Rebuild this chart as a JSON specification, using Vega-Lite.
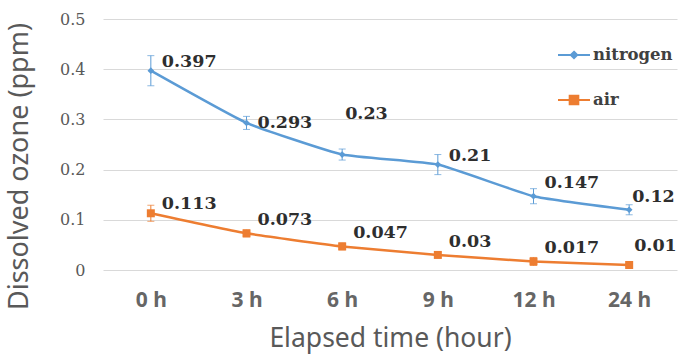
{
  "$schema": "https://vega.github.io/schema/vega-lite/v6.json",
  "autosize": {"type": "none"},
  "padding": {"left": 103, "top": 19, "right": 1, "bottom": 84},
  "width": 574,
  "height": 251,
  "background": "white",
  "config": {"view": {"stroke": null}},
  "data": {"values": [
    {"series": "nitrogen", "time": "0 h", "value": 0.397, "lo": 0.367, "hi": 0.427},
    {"series": "nitrogen", "time": "3 h", "value": 0.293, "lo": 0.28, "hi": 0.306},
    {"series": "nitrogen", "time": "6 h", "value": 0.23, "lo": 0.219, "hi": 0.241},
    {"series": "nitrogen", "time": "9 h", "value": 0.21, "lo": 0.19, "hi": 0.23},
    {"series": "nitrogen", "time": "12 h", "value": 0.147, "lo": 0.132, "hi": 0.162},
    {"series": "nitrogen", "time": "24 h", "value": 0.12, "lo": 0.11, "hi": 0.13},
    {"series": "air", "time": "0 h", "value": 0.113, "lo": 0.097, "hi": 0.129},
    {"series": "air", "time": "3 h", "value": 0.073, "lo": 0.066, "hi": 0.08},
    {"series": "air", "time": "6 h", "value": 0.047, "lo": 0.04, "hi": 0.054},
    {"series": "air", "time": "9 h", "value": 0.03, "lo": 0.025, "hi": 0.035},
    {"series": "air", "time": "12 h", "value": 0.017, "lo": 0.009, "hi": 0.025},
    {"series": "air", "time": "24 h", "value": 0.01, "lo": 0.007, "hi": 0.013}
  ]},
  "encoding": {
    "x": {
      "field": "time", "type": "nominal",
      "sort": ["0 h", "3 h", "6 h", "9 h", "12 h", "24 h"],
      "scale": {"type": "point", "padding": 0.5},
      "axis": {
        "title": "Elapsed time (hour)",
        "labelAngle": 0, "ticks": false, "domain": false, "grid": false,
        "labelFont": "Noto Sans", "labelFontSize": 21, "labelFontWeight": "bold", "labelColor": "#666666",
        "labelPadding": 19,
        "titleFont": "Noto Sans", "titleFontSize": 26.5, "titleFontWeight": "normal",
        "titleColor": "#595959", "titleBaseline": "alphabetic", "titleY": 76
      }
    }
  },
  "layer": [
    {
      "mark": {"type": "line", "interpolate": "cardinal", "tension": 0.6, "strokeWidth": 2.5},
      "encoding": {
        "y": {
          "field": "value", "type": "quantitative",
          "scale": {"domain": [0, 0.5]},
          "axis": {
            "title": "Dissolved ozone (ppm)",
            "values": [0, 0.1, 0.2, 0.3, 0.4, 0.5], "format": ".1~f",
            "ticks": false, "domain": false,
            "gridColor": "#d9d9d9", "gridWidth": 1,
            "labelFont": "DejaVu Serif", "labelFontWeight": "normal",
            "labelFontSize": 16, "labelColor": "#595959", "labelPadding": 18,
            "titleFont": "Noto Sans", "titleFontSize": 27, "titleFontWeight": "normal",
            "titleColor": "#595959", "titleX": -84, "titleY": 147,
            "titleBaseline": "middle", "titleAlign": "center", "titleAngle": -90
          }
        },
        "color": {
          "field": "series", "type": "nominal",
          "scale": {"domain": ["nitrogen", "air"], "range": ["#5B9BD5", "#ED7D31"]},
          "legend": {
            "title": null, "orient": "none", "legendX": 454, "legendY": 19,
            "symbolType": "M-1,0H1M-0.3,-0.3H0.3V0.3H-0.3Z",
            "symbolSize": 1024, "symbolStrokeWidth": 2, "rowPadding": 19, "labelOffset": 2,
            "labelFont": "DejaVu Serif", "labelFontWeight": "bold",
            "labelFontSize": 16.5, "labelColor": "#404040",
            "encode": {"symbols": {"update": {
              "shape": {"signal": "datum.value === 'nitrogen' ? 'M-1,0H1M0,-0.2L0.2,0L0,0.2L-0.2,0Z' : 'M-1,0H1M-0.27,-0.27H0.27V0.27H-0.27Z'"},
              "fill": {"scale": "color", "field": "value"},
              "stroke": {"scale": "color", "field": "value"},
              "strokeWidth": {"value": 2},
              "strokeOpacity": {"value": 1},
              "fillOpacity": {"value": 1},
              "opacity": {"value": 1}
            }}}
          }
        }
      }
    },
    {
      "mark": {"type": "rule", "strokeWidth": 1},
      "encoding": {
        "y": {"field": "lo", "type": "quantitative"},
        "y2": {"field": "hi"},
        "color": {"field": "series", "type": "nominal"}
      }
    },
    {
      "mark": {"type": "tick", "size": 7, "thickness": 1},
      "encoding": {
        "y": {"field": "lo", "type": "quantitative"},
        "color": {"field": "series", "type": "nominal"}
      }
    },
    {
      "mark": {"type": "tick", "size": 7, "thickness": 1},
      "encoding": {
        "y": {"field": "hi", "type": "quantitative"},
        "color": {"field": "series", "type": "nominal"}
      }
    },
    {
      "transform": [{"filter": "datum.series === 'nitrogen'"}],
      "mark": {"type": "point", "shape": "diamond", "size": 45, "filled": true, "opacity": 1},
      "encoding": {
        "y": {"field": "value", "type": "quantitative"},
        "color": {"field": "series", "type": "nominal"}
      }
    },
    {
      "transform": [{"filter": "datum.series === 'air'"}],
      "mark": {"type": "point", "shape": "square", "size": 64, "filled": true, "opacity": 1},
      "encoding": {
        "y": {"field": "value", "type": "quantitative"},
        "color": {"field": "series", "type": "nominal"}
      }
    },
    {
      "transform": [{"filter": "indexof(['0.147','0.073','0.047','0.03','0.017'], '' + datum.value) >= 0"}],
      "mark": {"type": "text", "align": "left", "baseline": "middle", "dx": 11, "dy": -13,
               "font": "DejaVu Serif", "fontWeight": "bold", "fontSize": 17.5, "color": "#2e2e2e"},
      "encoding": {
        "y": {"field": "value", "type": "quantitative"},
        "text": {"field": "value", "type": "nominal"}
      }
    },
    {
      "transform": [{"filter": "indexof(['0.397','0.21','0.113'], '' + datum.value) >= 0"}],
      "mark": {"type": "text", "align": "left", "baseline": "middle", "dx": 11, "dy": -9,
               "font": "DejaVu Serif", "fontWeight": "bold", "fontSize": 17.5, "color": "#2e2e2e"},
      "encoding": {
        "y": {"field": "value", "type": "quantitative"},
        "text": {"field": "value", "type": "nominal"}
      }
    },
    {
      "transform": [{"filter": "datum.value === 0.12"}],
      "mark": {"type": "text", "align": "left", "baseline": "middle", "dx": 3, "dy": -13,
               "font": "DejaVu Serif", "fontWeight": "bold", "fontSize": 17.5, "color": "#2e2e2e"},
      "encoding": {
        "y": {"field": "value", "type": "quantitative"},
        "text": {"field": "value", "type": "nominal"}
      }
    },
    {
      "transform": [{"filter": "datum.value === 0.01"}],
      "mark": {"type": "text", "align": "left", "baseline": "middle", "dx": 5, "dy": -19,
               "font": "DejaVu Serif", "fontWeight": "bold", "fontSize": 17.5, "color": "#2e2e2e"},
      "encoding": {
        "y": {"field": "value", "type": "quantitative"},
        "text": {"field": "value", "type": "nominal"}
      }
    },
    {
      "transform": [{"filter": "datum.value === 0.293"}],
      "mark": {"type": "text", "align": "left", "baseline": "middle", "dx": 11, "dy": 0,
               "font": "DejaVu Serif", "fontWeight": "bold", "fontSize": 17.5, "color": "#2e2e2e"},
      "encoding": {
        "y": {"field": "value", "type": "quantitative"},
        "text": {"field": "value", "type": "nominal"}
      }
    },
    {
      "transform": [{"filter": "datum.value === 0.23"}],
      "mark": {"type": "text", "align": "left", "baseline": "middle", "dx": 3, "dy": -41,
               "font": "DejaVu Serif", "fontWeight": "bold", "fontSize": 17.5, "color": "#2e2e2e"},
      "encoding": {
        "y": {"field": "value", "type": "quantitative"},
        "text": {"field": "value", "type": "nominal"}
      }
    }
  ]
}
